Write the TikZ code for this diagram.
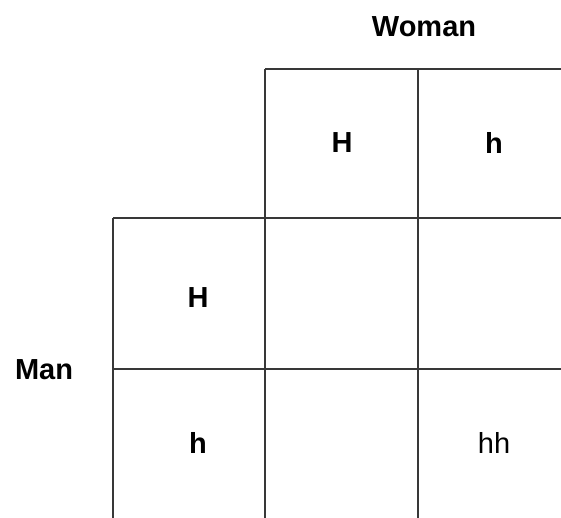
\documentclass[tikz,border=0pt]{standalone}
\usepackage{fontspec}
\setmainfont{Liberation Sans}
\begin{document}
\begin{tikzpicture}[x=1pt,y=-1pt,
  gridline/.style={draw=black!78, line width=2.2pt},
  lbl/.style={font=\fontsize{29}{31}\selectfont\bfseries, inner sep=0pt},
  plain/.style={font=\fontsize{29}{31}\selectfont, inner sep=0pt}]
\useasboundingbox[fill=white] (0,0) rectangle (561,518);
% coordinates
\coordinate (t1) at (265,69);
\coordinate (t2) at (418,69);
\coordinate (tr) at (561,69);
\coordinate (m0) at (113,218);
\coordinate (m3) at (561,218);
\coordinate (n0) at (113,369);
\coordinate (n3) at (561,369);
\coordinate (b0) at (113,518);
\coordinate (b1) at (265,518);
\coordinate (b2) at (418,518);
% lines
\draw[gridline] (t1) -- (tr);
\draw[gridline] (m0) -- (m3);
\draw[gridline] (n0) -- (n3);
\draw[gridline] (m0) -- (b0);
\draw[gridline] (t1) -- (b1);
\draw[gridline] (t2) -- (b2);
% labels
\node[lbl] (woman) at (424,27) {Woman};
\node[lbl] (man) at (44,370) {Man};
\node[lbl] (wH) at (342,143) {H};
\node[lbl] (wh) at (494,143) {h};
\node[lbl] (mH) at (198,298) {H};
\node[lbl] (mh) at (198,443) {h};
\node[plain] (hh) at (494,443) {hh};
\end{tikzpicture}
\end{document}
